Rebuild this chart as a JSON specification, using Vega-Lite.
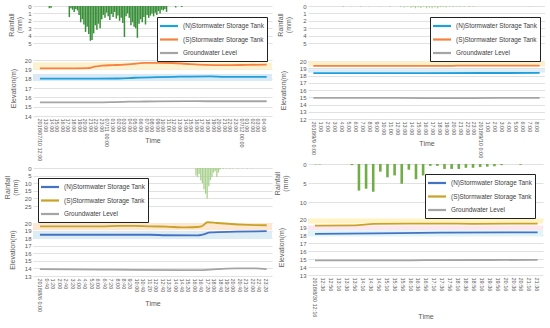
{
"$schema": "https://vega.github.io/schema/vega-lite/v6.json",
"padding": {"left": 3, "top": 3, "right": 0, "bottom": 0},
"config": {
  "view": {"stroke": null},
  "font": "Liberation Sans",
  "axis": {"domain": false, "ticks": false, "labelFontSize": 6, "labelColor": "#595959", "titleColor": "#595959", "titleFontSize": 7, "titleFontWeight": "normal", "gridColor": "#d9d9d9", "gridWidth": 0.8, "labelPadding": 2, "titleLineHeight": 8, "labelOverlap": false},
  "legend": {"symbolType": "M-2,0H2", "symbolSize": 81, "symbolOffset": 3, "symbolStrokeWidth": 2.2, "labelFontSize": 6.4, "labelColor": "#404040", "strokeColor": "#222222", "fillColor": "#ffffff", "padding": 3, "rowPadding": 2.5, "labelOffset": 8, "labelLimit": 200}
},
"datasets": {
  "rain1": [
    {"t":1.7,"r":0.3},{"t":2.0,"r":0.25},
    {"t":5.27,"r":1.5},{"t":5.56,"r":0.3},{"t":5.85,"r":0.5},{"t":6.14,"r":0.8},{"t":6.43,"r":0.4},{"t":6.72,"r":0.6},{"t":7.01,"r":1.2},{"t":7.30,"r":2.2},{"t":7.59,"r":1.8},{"t":7.88,"r":2.5},{"t":8.17,"r":3.5},{"t":8.46,"r":2.8},{"t":8.75,"r":3.8},{"t":9.04,"r":4.7},{"t":9.33,"r":4.6},{"t":9.62,"r":3.7},{"t":9.91,"r":2.6},{"t":10.20,"r":3.2},{"t":10.49,"r":2.4},{"t":10.78,"r":3.0},{"t":11.07,"r":1.8},{"t":11.36,"r":1.2},{"t":11.65,"r":1.6},{"t":11.94,"r":0.9},{"t":12.23,"r":1.4},{"t":12.52,"r":1.9},{"t":12.81,"r":1.1},{"t":13.10,"r":1.5},{"t":13.39,"r":0.8},{"t":13.68,"r":1.7},{"t":13.97,"r":1.3},{"t":14.26,"r":2.0},{"t":14.55,"r":1.6},{"t":14.84,"r":2.3},{"t":15.13,"r":4.2},{"t":15.42,"r":1.4},{"t":15.71,"r":1.0},{"t":16.00,"r":1.6},{"t":16.29,"r":2.6},{"t":16.58,"r":2.2},{"t":16.87,"r":2.8},{"t":17.16,"r":3.0},{"t":17.45,"r":4.3},{"t":17.74,"r":2.4},{"t":18.03,"r":1.8},{"t":18.32,"r":2.2},{"t":18.61,"r":1.5},{"t":18.90,"r":2.5},{"t":19.19,"r":1.2},{"t":19.48,"r":1.6},{"t":19.77,"r":1.3},{"t":20.06,"r":1.0},{"t":20.35,"r":1.4},{"t":20.64,"r":0.9},{"t":20.93,"r":1.2},{"t":21.22,"r":0.7},{"t":21.51,"r":1.0},{"t":21.80,"r":0.5},{"t":22.09,"r":0.6},{"t":22.38,"r":0.4},{"t":22.67,"r":0.8},
    {"t":24.3,"r":0.2},{"t":25.4,"r":0.15}
  ],
  "lev1": [
    {"t":0,"v":19.1,"s":"(S)Stormwater Storage Tank"},{"t":4,"v":19.1,"s":"(S)Stormwater Storage Tank"},{"t":8.6,"v":19.12,"s":"(S)Stormwater Storage Tank"},{"t":9.8,"v":19.28,"s":"(S)Stormwater Storage Tank"},{"t":11.1,"v":19.4,"s":"(S)Stormwater Storage Tank"},{"t":13,"v":19.45,"s":"(S)Stormwater Storage Tank"},{"t":15.1,"v":19.5,"s":"(S)Stormwater Storage Tank"},{"t":17,"v":19.6,"s":"(S)Stormwater Storage Tank"},{"t":18.6,"v":19.7,"s":"(S)Stormwater Storage Tank"},{"t":21,"v":19.7,"s":"(S)Stormwater Storage Tank"},{"t":23.7,"v":19.68,"s":"(S)Stormwater Storage Tank"},{"t":26,"v":19.6,"s":"(S)Stormwater Storage Tank"},{"t":28.3,"v":19.5,"s":"(S)Stormwater Storage Tank"},{"t":31,"v":19.45,"s":"(S)Stormwater Storage Tank"},{"t":34,"v":19.45,"s":"(S)Stormwater Storage Tank"},{"t":37,"v":19.48,"s":"(S)Stormwater Storage Tank"},{"t":40.6,"v":19.5,"s":"(S)Stormwater Storage Tank"},
    {"t":0,"v":18.0,"s":"(N)Stormwater Storage Tank"},{"t":10,"v":18.0,"s":"(N)Stormwater Storage Tank"},{"t":14,"v":18.02,"s":"(N)Stormwater Storage Tank"},{"t":17,"v":18.1,"s":"(N)Stormwater Storage Tank"},{"t":21.4,"v":18.17,"s":"(N)Stormwater Storage Tank"},{"t":24,"v":18.2,"s":"(N)Stormwater Storage Tank"},{"t":30.6,"v":18.25,"s":"(N)Stormwater Storage Tank"},{"t":33,"v":18.2,"s":"(N)Stormwater Storage Tank"},{"t":40.6,"v":18.2,"s":"(N)Stormwater Storage Tank"},
    {"t":0,"v":15.45,"s":"Groundwater Level"},{"t":8,"v":15.45,"s":"Groundwater Level"},{"t":15,"v":15.52,"s":"Groundwater Level"},{"t":18,"v":15.55,"s":"Groundwater Level"},{"t":26,"v":15.6,"s":"Groundwater Level"},{"t":30,"v":15.58,"s":"Groundwater Level"},{"t":40.6,"v":15.58,"s":"Groundwater Level"}
  ],
  "band1": [{"b":"S","lo":18.95,"hi":19.75},{"b":"N","lo":17.75,"hi":18.5}],
  "rain2": [
    {"t":4.3,"r":0.12},{"t":5.5,"r":0.08},{"t":6.8,"r":0.1},{"t":8,"r":0.08},{"t":9.5,"r":0.06},{"t":11,"r":0.1},{"t":12.5,"r":0.12},{"t":13,"r":0.2},{"t":13.5,"r":0.1},{"t":14,"r":0.25},{"t":14.3,"r":0.15},{"t":14.6,"r":0.3},{"t":15,"r":0.2},{"t":15.4,"r":0.28},{"t":15.8,"r":0.15},{"t":16.2,"r":0.3},{"t":16.6,"r":0.25},{"t":17,"r":0.3},{"t":17.4,"r":0.2},{"t":17.8,"r":0.3},{"t":18.2,"r":0.15},{"t":18.6,"r":0.12},{"t":19,"r":0.2},{"t":19.5,"r":0.1},{"t":20,"r":0.15},{"t":20.5,"r":0.08},{"t":21,"r":0.12},{"t":21.6,"r":0.1},{"t":22.3,"r":0.15},{"t":22.9,"r":0.1},{"t":31,"r":0.08}
  ],
  "lev2": [
    {"t":0,"v":19.33,"s":"(S)Stormwater Storage Tank"},{"t":10,"v":19.33,"s":"(S)Stormwater Storage Tank"},{"t":20,"v":19.34,"s":"(S)Stormwater Storage Tank"},{"t":21,"v":19.37,"s":"(S)Stormwater Storage Tank"},{"t":32.4,"v":19.37,"s":"(S)Stormwater Storage Tank"},
    {"t":0,"v":18.33,"s":"(N)Stormwater Storage Tank"},{"t":16,"v":18.34,"s":"(N)Stormwater Storage Tank"},{"t":32.4,"v":18.35,"s":"(N)Stormwater Storage Tank"},
    {"t":0,"v":14.92,"s":"Groundwater Level"},{"t":10,"v":14.92,"s":"Groundwater Level"},{"t":16,"v":14.88,"s":"Groundwater Level"},{"t":22,"v":14.87,"s":"Groundwater Level"},{"t":26,"v":14.9,"s":"Groundwater Level"},{"t":32.4,"v":14.92,"s":"Groundwater Level"}
  ],
  "band2": [{"b":"S","lo":19.25,"hi":19.95},{"b":"N","lo":18.4,"hi":18.85}],
  "rain3": [
    {"t":970,"r":5},{"t":980,"r":6},{"t":990,"r":4},{"t":1000,"r":8},{"t":1010,"r":10},{"t":1020,"r":14},{"t":1030,"r":17},{"t":1040,"r":20},{"t":1050,"r":12},{"t":1060,"r":8},{"t":1070,"r":6},{"t":1080,"r":3},{"t":1090,"r":2},{"t":1100,"r":6},{"t":1110,"r":3},{"t":1120,"r":1},{"t":1140,"r":0.5},{"t":1160,"r":0.3},{"t":1180,"r":0.5},{"t":1200,"r":0.3},{"t":1230,"r":0.3},{"t":1260,"r":0.2},{"t":1290,"r":0.3},{"t":1320,"r":0.2}
  ],
  "lev3": [
    {"t":0,"v":19.56,"s":"(S)Stormwater Storage Tank"},{"t":387,"v":19.56,"s":"(S)Stormwater Storage Tank"},{"t":486,"v":19.62,"s":"(S)Stormwater Storage Tank"},{"t":585,"v":19.62,"s":"(S)Stormwater Storage Tank"},{"t":685,"v":19.56,"s":"(S)Stormwater Storage Tank"},{"t":784,"v":19.52,"s":"(S)Stormwater Storage Tank"},{"t":903,"v":19.42,"s":"(S)Stormwater Storage Tank"},{"t":982,"v":19.47,"s":"(S)Stormwater Storage Tank"},{"t":1010,"v":19.6,"s":"(S)Stormwater Storage Tank"},{"t":1042,"v":20.1,"s":"(S)Stormwater Storage Tank"},{"t":1101,"v":20.0,"s":"(S)Stormwater Storage Tank"},{"t":1260,"v":19.78,"s":"(S)Stormwater Storage Tank"},{"t":1410,"v":19.7,"s":"(S)Stormwater Storage Tank"},
    {"t":0,"v":18.45,"s":"(N)Stormwater Storage Tank"},{"t":685,"v":18.45,"s":"(N)Stormwater Storage Tank"},{"t":784,"v":18.38,"s":"(N)Stormwater Storage Tank"},{"t":982,"v":18.36,"s":"(N)Stormwater Storage Tank"},{"t":1010,"v":18.45,"s":"(N)Stormwater Storage Tank"},{"t":1061,"v":18.76,"s":"(N)Stormwater Storage Tank"},{"t":1220,"v":18.85,"s":"(N)Stormwater Storage Tank"},{"t":1410,"v":18.93,"s":"(N)Stormwater Storage Tank"},
    {"t":0,"v":13.9,"s":"Groundwater Level"},{"t":387,"v":13.85,"s":"Groundwater Level"},{"t":585,"v":13.8,"s":"Groundwater Level"},{"t":903,"v":13.78,"s":"Groundwater Level"},{"t":982,"v":13.78,"s":"Groundwater Level"},{"t":1100,"v":13.9,"s":"Groundwater Level"},{"t":1220,"v":14.0,"s":"Groundwater Level"},{"t":1339,"v":14.0,"s":"Groundwater Level"},{"t":1410,"v":13.92,"s":"Groundwater Level"}
  ],
  "band3": [{"b":"S","lo":19.05,"hi":20.0},{"b":"N","lo":17.9,"hi":18.9}],
  "rain4": [
    {"t":2,"r":0.1},{"t":12,"r":0.1},{"t":93,"r":0.3},{"t":111,"r":7.0},{"t":129,"r":6.5},{"t":147,"r":7.3},{"t":165,"r":2.0},{"t":183,"r":3.5},{"t":201,"r":3.0},{"t":219,"r":5.2},{"t":237,"r":1.5},{"t":255,"r":4.0},{"t":273,"r":3.0},{"t":291,"r":0.5},{"t":309,"r":0.5},{"t":327,"r":1.3},{"t":345,"r":1.3},{"t":363,"r":1.3},{"t":381,"r":1.0},{"t":399,"r":1.0},{"t":417,"r":0.8},{"t":435,"r":0.7},{"t":453,"r":0.6},{"t":471,"r":0.3},{"t":519,"r":0.2}
  ],
  "lev4": [
    {"t":0,"v":19.17,"s":"(S)Stormwater Storage Tank"},{"t":100,"v":19.2,"s":"(S)Stormwater Storage Tank"},{"t":149,"v":19.38,"s":"(S)Stormwater Storage Tank"},{"t":237,"v":19.42,"s":"(S)Stormwater Storage Tank"},{"t":318,"v":19.42,"s":"(S)Stormwater Storage Tank"},{"t":399,"v":19.4,"s":"(S)Stormwater Storage Tank"},{"t":562,"v":19.42,"s":"(S)Stormwater Storage Tank"},
    {"t":0,"v":18.13,"s":"(N)Stormwater Storage Tank"},{"t":149,"v":18.2,"s":"(N)Stormwater Storage Tank"},{"t":318,"v":18.29,"s":"(N)Stormwater Storage Tank"},{"t":562,"v":18.33,"s":"(N)Stormwater Storage Tank"},
    {"t":0,"v":14.83,"s":"Groundwater Level"},{"t":237,"v":14.83,"s":"Groundwater Level"},{"t":318,"v":14.87,"s":"Groundwater Level"},{"t":562,"v":14.88,"s":"Groundwater Level"}
  ],
  "band4": [{"b":"S","lo":19.45,"hi":20.05},{"b":"M","lo":18.6,"hi":19.2},{"b":"N","lo":17.8,"hi":18.6}]
},
"columns": 2,
"bounds": "flush",
"spacing": {"row": 45, "column": 36},
"resolve": {"scale": {"color": "independent", "fill": "independent", "x": "independent", "y": "independent"}, "legend": {"color": "independent", "fill": "independent"}},
"concat": [
 {"width": 239, "height": 110,
  "resolve": {"scale": {"y": "independent"}, "axis": {"y": "independent"}},
  "layer": [
   {"layer": [
     {"data": {"name": "band1"}, "mark": {"type": "rect"},
      "encoding": {
        "y": {"field": "lo", "type": "quantitative", "scale": {"domain": [14, 20], "range": [110, 54], "nice": false, "zero": false}, "axis": {"orient": "left", "grid": true, "values": [14,15,16,17,18,19,20], "title": "Elevation(m)", "minExtent": 12, "maxExtent": 12, "titlePadding": 5}},
        "y2": {"field": "hi"},
        "fill": {"field": "b", "type": "nominal", "scale": {"domain": ["S", "N"], "range": ["#fdf2d0", "#d9e9f7"]}, "legend": null}
      }},
     {"data": {"name": "lev1"}, "mark": {"type": "line", "strokeWidth": 1.8, "interpolate": "monotone"},
      "encoding": {
        "x": {"field": "t", "type": "quantitative", "scale": {"domain": [-0.34, 40.65], "nice": false, "zero": false},
              "axis": {"values": [0,1,2,3,4,5,6,7,8,9,10,11,12,13,14,15,16,17,18,19,20,21,22,23,24,25,26,27,28,29,30,31,32,33,34,35,36,37,38,39,40], "labelAngle": 90, "labelFontSize": 5.5, "title": "Time", "minExtent": 14, "maxExtent": 14, "titlePadding": 6.5, "grid": false,
                       "labelExpr": "datum.value == 0 ? '2018/07/10 12:00' : datum.value == 12 ? '07/11 00:00' : datum.value == 36 ? '07/12 00:00' : ((((datum.value + 12) % 24) < 10) ? '0' : '') + ((datum.value + 12) % 24) + ':00'"}},
        "y": {"field": "v", "type": "quantitative", "scale": {"domain": [14, 20], "range": [110, 54], "nice": false, "zero": false}, "axis": {"orient": "left", "grid": true, "values": [14,15,16,17,18,19,20], "title": "Elevation(m)", "minExtent": 12, "maxExtent": 12, "titlePadding": 5}},
        "color": {"field": "s", "type": "nominal", "scale": {"domain": ["(N)Stormwater Storage Tank", "(S)Stormwater Storage Tank", "Groundwater Level"], "range": ["#1ea0dc", "#f7813f", "#a5a5a5"]},
                  "legend": {"title": null, "orient": "none", "legendX": 124, "legendY": 11}}
      }}
   ]},
   {"data": {"name": "rain1"}, "mark": {"type": "bar", "color": "#3a8f3a", "size": 1.5},
    "encoding": {
      "x": {"field": "t", "type": "quantitative", "scale": {"domain": [-0.34, 40.65], "nice": false, "zero": false},
            "axis": {"values": [0,1,2,3,4,5,6,7,8,9,10,11,12,13,14,15,16,17,18,19,20,21,22,23,24,25,26,27,28,29,30,31,32,33,34,35,36,37,38,39,40], "labelAngle": 90, "labelFontSize": 5.5, "title": "Time", "minExtent": 14, "maxExtent": 14, "titlePadding": 6.5, "grid": false,
                     "labelExpr": "datum.value == 0 ? '2018/07/10 12:00' : datum.value == 12 ? '07/11 00:00' : datum.value == 36 ? '07/12 00:00' : ((((datum.value + 12) % 24) < 10) ? '0' : '') + ((datum.value + 12) % 24) + ':00'"}},
      "y": {"field": "r", "type": "quantitative", "scale": {"domain": [0, 5], "range": [0, 37], "nice": false}, "axis": {"orient": "left", "grid": true, "values": [0,1,2,3,4,5], "title": ["Rainfall", "(mm)"], "minExtent": 8, "maxExtent": 8, "titlePadding": 3}}
    }}
  ]},
 {"width": 237, "height": 113,
  "resolve": {"scale": {"y": "independent"}, "axis": {"y": "independent"}},
  "layer": [
   {"layer": [
     {"data": {"name": "band2"}, "mark": {"type": "rect"},
      "encoding": {
        "y": {"field": "lo", "type": "quantitative", "scale": {"domain": [12, 20], "range": [113, 55], "nice": false, "zero": false}, "axis": {"orient": "left", "grid": true, "values": [12,13,14,15,16,17,18,19,20], "title": "Elevation(m)", "minExtent": 12, "maxExtent": 12, "titlePadding": 9.5}},
        "y2": {"field": "hi"},
        "fill": {"field": "b", "type": "nominal", "scale": {"domain": ["S", "N"], "range": ["#fdf0cc", "#dcecf9"]}, "legend": null}
      }},
     {"data": {"name": "lev2"}, "mark": {"type": "line", "strokeWidth": 1.8, "interpolate": "monotone"},
      "encoding": {
        "x": {"field": "t", "type": "quantitative", "scale": {"domain": [-0.05, 32.45], "nice": false, "zero": false},
              "axis": {"values": [0,1,2,3,4,5,6,7,8,9,10,11,12,13,14,15,16,17,18,19,20,21,22,23,24,25,26,27,28,29,30,31,32], "labelAngle": 90, "labelFontSize": 5.5, "title": "Time", "minExtent": 14, "maxExtent": 14, "titlePadding": 6.5, "grid": false,
                       "labelExpr": "datum.value == 0 ? '2018/9/9 0:00' : datum.value == 24 ? '2018/9/10 0:00' : (datum.value % 24) + ':00'"}},
        "y": {"field": "v", "type": "quantitative", "scale": {"domain": [12, 20], "range": [113, 55], "nice": false, "zero": false}, "axis": {"orient": "left", "grid": true, "values": [12,13,14,15,16,17,18,19,20], "title": "Elevation(m)", "minExtent": 12, "maxExtent": 12, "titlePadding": 9.5}},
        "color": {"field": "s", "type": "nominal", "scale": {"domain": ["(N)Stormwater Storage Tank", "(S)Stormwater Storage Tank", "Groundwater Level"], "range": ["#1ea0dc", "#f7813f", "#a5a5a5"]},
                  "legend": {"title": null, "orient": "none", "legendX": 122, "legendY": 11}}
      }}
   ]},
   {"data": {"name": "rain2"}, "mark": {"type": "bar", "color": "#a9d18e", "size": 1.2},
    "encoding": {
      "x": {"field": "t", "type": "quantitative", "scale": {"domain": [-0.05, 32.45], "nice": false, "zero": false},
            "axis": {"values": [0,1,2,3,4,5,6,7,8,9,10,11,12,13,14,15,16,17,18,19,20,21,22,23,24,25,26,27,28,29,30,31,32], "labelAngle": 90, "labelFontSize": 5.5, "title": "Time", "minExtent": 14, "maxExtent": 14, "titlePadding": 6.5, "grid": false,
                     "labelExpr": "datum.value == 0 ? '2018/9/9 0:00' : datum.value == 24 ? '2018/9/10 0:00' : (datum.value % 24) + ':00'"}},
      "y": {"field": "r", "type": "quantitative", "scale": {"domain": [0, 5], "range": [0, 37], "nice": false}, "axis": {"orient": "left", "grid": true, "values": [0,1,2,3,4,5], "title": ["Rainfall", "(mm)"], "minExtent": 10, "maxExtent": 10, "titlePadding": 6.5}}
    }}
  ]},
 {"width": 239, "height": 112,
  "resolve": {"scale": {"y": "independent"}, "axis": {"y": "independent"}},
  "layer": [
   {"layer": [
     {"data": {"name": "band3"}, "mark": {"type": "rect"},
      "encoding": {
        "y": {"field": "lo", "type": "quantitative", "scale": {"domain": [13, 20], "range": [112, 59], "nice": false, "zero": false}, "axis": {"orient": "left", "grid": true, "values": [13,14,15,16,17,18,19,20], "title": "Elevation(m)", "minExtent": 12, "maxExtent": 12, "titlePadding": 6}},
        "y2": {"field": "hi"},
        "fill": {"field": "b", "type": "nominal", "scale": {"domain": ["S", "N"], "range": ["#fce7d2", "#dcedf6"]}, "legend": null}
      }},
     {"data": {"name": "lev3"}, "mark": {"type": "line", "strokeWidth": 1.8, "interpolate": "monotone"},
      "encoding": {
        "x": {"field": "t", "type": "quantitative", "scale": {"domain": [-12, 1412], "nice": false, "zero": false},
              "axis": {"values": [0,40,80,120,160,200,240,280,320,360,400,440,480,520,560,600,640,680,720,760,800,840,880,920,960,1000,1040,1080,1120,1160,1200,1240,1280,1320,1360,1400], "labelAngle": 90, "labelFontSize": 5.5, "title": "Time", "minExtent": 14, "maxExtent": 14, "titlePadding": 9.5, "grid": false,
                       "labelExpr": "datum.value == 0 ? '2018/8/6 0:00' : floor(datum.value / 60) + ':' + ((datum.value % 60) < 10 ? '0' : '') + (datum.value % 60)"}},
        "y": {"field": "v", "type": "quantitative", "scale": {"domain": [13, 20], "range": [112, 59], "nice": false, "zero": false}, "axis": {"orient": "left", "grid": true, "values": [13,14,15,16,17,18,19,20], "title": "Elevation(m)", "minExtent": 12, "maxExtent": 12, "titlePadding": 6}},
        "color": {"field": "s", "type": "nominal", "scale": {"domain": ["(N)Stormwater Storage Tank", "(S)Stormwater Storage Tank", "Groundwater Level"], "range": ["#4472c4", "#c9a227", "#a5a5a5"]},
                  "legend": {"title": null, "orient": "none", "legendX": 5, "legendY": 14}}
      }}
   ]},
   {"data": {"name": "rain3"}, "mark": {"type": "bar", "color": "#a9d18e", "size": 1.3},
    "encoding": {
      "x": {"field": "t", "type": "quantitative", "scale": {"domain": [-12, 1412], "nice": false, "zero": false},
            "axis": {"values": [0,40,80,120,160,200,240,280,320,360,400,440,480,520,560,600,640,680,720,760,800,840,880,920,960,1000,1040,1080,1120,1160,1200,1240,1280,1320,1360,1400], "labelAngle": 90, "labelFontSize": 5.5, "title": "Time", "minExtent": 14, "maxExtent": 14, "titlePadding": 9.5, "grid": false,
                     "labelExpr": "datum.value == 0 ? '2018/8/6 0:00' : floor(datum.value / 60) + ':' + ((datum.value % 60) < 10 ? '0' : '') + (datum.value % 60)"}},
      "y": {"field": "r", "type": "quantitative", "scale": {"domain": [0, 25], "range": [4, 42], "nice": false}, "axis": {"orient": "left", "grid": true, "values": [0,5,10,15,20,25], "title": ["Rainfall", "(mm)"], "minExtent": 10, "maxExtent": 10, "titlePadding": 4.5}}
    }}
  ]},
 {"width": 235, "height": 111,
  "resolve": {"scale": {"y": "independent"}, "axis": {"y": "independent"}},
  "layer": [
   {"layer": [
     {"data": {"name": "band4"}, "mark": {"type": "rect"},
      "encoding": {
        "y": {"field": "lo", "type": "quantitative", "scale": {"domain": [13, 20], "range": [111, 55], "nice": false, "zero": false}, "axis": {"orient": "left", "grid": true, "values": [13,14,15,16,17,18,19,20], "title": "Elevation(m)", "minExtent": 12, "maxExtent": 12, "titlePadding": 11.5}},
        "y2": {"field": "hi"},
        "fill": {"field": "b", "type": "nominal", "scale": {"domain": ["S", "M", "N"], "range": ["#fff3c4", "#fde6ee", "#e1f4f7"]}, "legend": null}
      }},
     {"data": {"name": "lev4"}, "mark": {"type": "line", "strokeWidth": 1.8, "interpolate": "monotone"},
      "encoding": {
        "x": {"field": "t", "type": "quantitative", "scale": {"domain": [-5, 563], "nice": false, "zero": false},
              "axis": {"values": [0,20,40,60,80,100,120,140,160,180,200,220,240,260,280,300,320,340,360,380,400,420,440,460,480,500,520,540,560], "labelAngle": 90, "labelFontSize": 5.5, "title": "Time", "minExtent": 14, "maxExtent": 14, "titlePadding": 23.5, "grid": false,
                       "labelExpr": "datum.value == 0 ? '2018/8/30 12:16' : (floor((datum.value + 16) / 60) + 12) + ':' + (((datum.value + 16) % 60) < 10 ? '0' : '') + ((datum.value + 16) % 60)"}},
        "y": {"field": "v", "type": "quantitative", "scale": {"domain": [13, 20], "range": [111, 55], "nice": false, "zero": false}, "axis": {"orient": "left", "grid": true, "values": [13,14,15,16,17,18,19,20], "title": "Elevation(m)", "minExtent": 12, "maxExtent": 12, "titlePadding": 11.5}},
        "color": {"field": "s", "type": "nominal", "scale": {"domain": ["(N)Stormwater Storage Tank", "(S)Stormwater Storage Tank", "Groundwater Level"], "range": ["#4472c4", "#c9a227", "#a5a5a5"]},
                  "legend": {"title": null, "orient": "none", "legendX": 117, "legendY": 10}}
      }}
   ]},
   {"data": {"name": "rain4"}, "mark": {"type": "bar", "color": "#70ad47", "size": 2.6},
    "encoding": {
      "x": {"field": "t", "type": "quantitative", "scale": {"domain": [-5, 563], "nice": false, "zero": false},
            "axis": {"values": [0,20,40,60,80,100,120,140,160,180,200,220,240,260,280,300,320,340,360,380,400,420,440,460,480,500,520,540,560], "labelAngle": 90, "labelFontSize": 5.5, "title": "Time", "minExtent": 14, "maxExtent": 14, "titlePadding": 23.5, "grid": false,
                     "labelExpr": "datum.value == 0 ? '2018/8/30 12:16' : (floor((datum.value + 16) / 60) + 12) + ':' + (((datum.value + 16) % 60) < 10 ? '0' : '') + ((datum.value + 16) % 60)"}},
      "y": {"field": "r", "type": "quantitative", "scale": {"domain": [0, 10], "range": [0, 38], "nice": false}, "axis": {"orient": "left", "grid": true, "values": [0,5,10], "title": ["Rainfall", "(mm)"], "minExtent": 10, "maxExtent": 10, "titlePadding": 9.5}}
    }}
  ]}
]
}
